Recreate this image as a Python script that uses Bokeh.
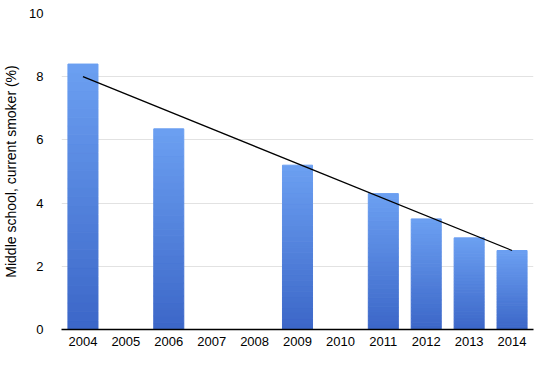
from bokeh.plotting import figure
from bokeh.models import FactorRange, Range1d, SingleIntervalTicker
from bokeh.embed import file_html
from bokeh.resources import INLINE

years = ["2004", "2005", "2006", "2007", "2008", "2009", "2010", "2011", "2012", "2013", "2014"]
bar_years = ["2004", "2006", "2009", "2011", "2012", "2013", "2014"]
bar_values = [8.4, 6.35, 5.2, 4.3, 3.5, 2.9, 2.5]
trend_years = ["2004", "2014"]
trend_values = [8.0, 2.5]

p = figure(x_range=FactorRange(*years, range_padding=0), y_range=Range1d(0, 10),
           width=534, height=351, output_backend="svg", toolbar_location=None,
           min_border_left=52, min_border_right=1, min_border_top=13, min_border_bottom=22)
p.outline_line_color = None
p.background_fill_color = "white"
p.border_fill_color = "white"

# gradient-like bars: slices from dark (bottom) to light (top)
n = 30
dark = (0x3C, 0x67, 0xC8)
light = (0x6C, 0xA0, 0xF2)
for i in range(n):
    t = (i + 0.5) / n
    c = "#%02x%02x%02x" % tuple(int(d + (l - d) * t) for d, l in zip(dark, light))
    bottoms = [v * i / n for v in bar_values]
    tops = [v * (i + 1) / n for v in bar_values]
    p.vbar(x=bar_years, bottom=bottoms, top=tops, width=0.7, fill_color=c, line_color=c, line_width=1)

p.line(x=trend_years, y=trend_values, line_color="black", line_width=1.3)

font = "Liberation Sans"
p.yaxis.ticker = SingleIntervalTicker(interval=2)
p.yaxis.axis_line_color = None
p.yaxis.major_tick_line_color = None
p.yaxis.minor_tick_line_color = None
p.yaxis.major_label_standoff = 12
p.yaxis.axis_label = "Middle school, current smoker (%)"
p.yaxis.axis_label_text_font_style = "normal"
p.yaxis.axis_label_text_font = font
p.yaxis.axis_label_text_font_size = "14px"
p.yaxis.axis_label_standoff = 7
p.yaxis.major_label_text_font = font
p.yaxis.major_label_text_font_size = "13px"
p.yaxis.major_label_text_color = "black"
p.yaxis.axis_label_text_color = "black"

p.xaxis.axis_line_color = "black"
p.xaxis.axis_line_width = 1.5
p.xaxis.major_tick_line_color = None
p.xaxis.minor_tick_line_color = None
p.xaxis.major_label_standoff = 1
p.xaxis.major_label_text_font = font
p.xaxis.major_label_text_font_size = "13px"
p.xaxis.major_label_text_color = "black"

p.xgrid.grid_line_color = None
p.ygrid.grid_line_color = "#e2e2e2"
p.ygrid.grid_line_width = 1

open("out.html", "w").write(file_html(p, INLINE))
